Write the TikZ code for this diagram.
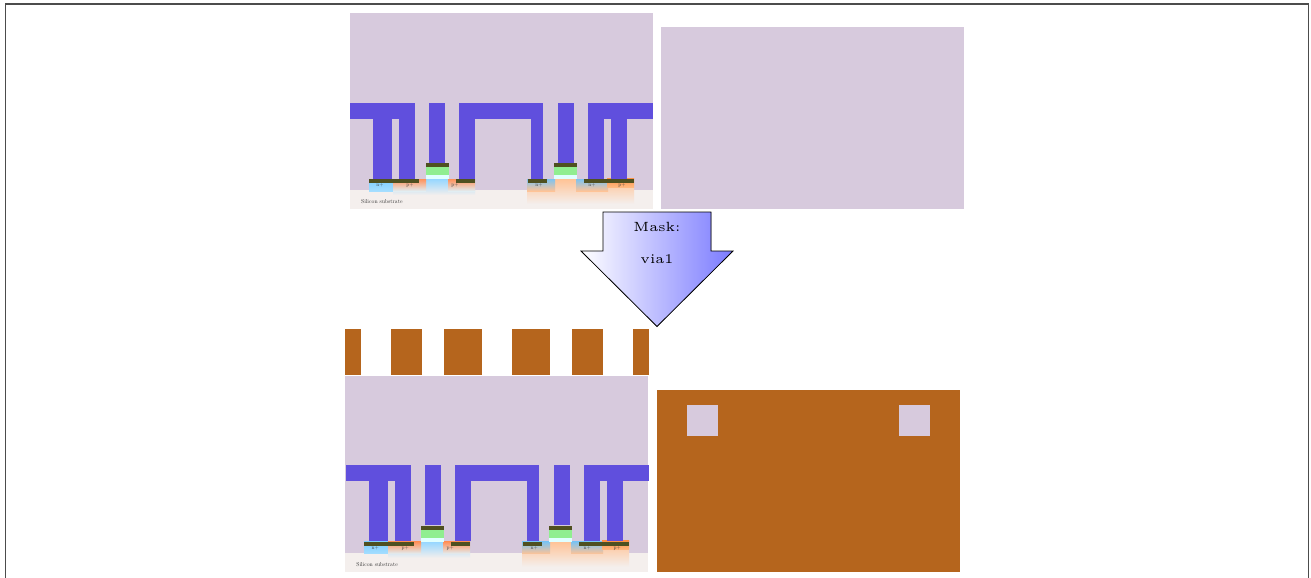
\documentclass[tikz,border=0pt]{standalone}
\usepackage{xcolor}
\definecolor{oxide}{HTML}{D7CADD}
\definecolor{subst}{HTML}{F4EFED}
\definecolor{metalone}{HTML}{604FDD}
\definecolor{contact}{HTML}{4F5020}
\definecolor{poly}{HTML}{90EE90}
\definecolor{gox}{HTML}{E0FFFF}
\definecolor{resist}{HTML}{B5651D}
\tikzset{
  x=0.75pt,y=-0.75pt,
  oxidefill/.style={fill=oxide,draw=none},
  substfill/.style={fill=subst,draw=none},
  metal/.style={fill=metalone,draw=none},
  via/.style={fill=contact,draw=none},
  gate/.style={fill=poly,draw=none},
  gateox/.style={fill=gox,draw=none},
  resistfill/.style={fill=resist,draw=none},
  nwell/.style={top color={rgb,255:red,150;green,215;blue,255},bottom color=subst,draw=none},
  pwell/.style={top color={rgb,255:red,255;green,195;blue,150},bottom color=subst,draw=none},
  nsolid/.style={top color={rgb,255:red,125;green,205;blue,255},bottom color={rgb,255:red,165;green,222;blue,255},draw=none},
  noverp/.style={top color={rgb,255:red,125;green,195;blue,240},middle color={rgb,255:red,170;green,190;blue,200},bottom color={rgb,255:red,255;green,195;blue,150},draw=none},
  poverw/.style={top color={rgb,255:red,255;green,145;blue,90},middle color={rgb,255:red,195;green,190;blue,180},bottom color={rgb,255:red,225;green,238;blue,243},draw=none},
  poverp/.style={top color={rgb,255:red,255;green,145;blue,70},bottom color={rgb,255:red,255;green,185;blue,130},draw=none},
  tinylabel/.style={inner sep=0pt,text=black!75,scale=0.4},
  sublabel/.style={inner sep=0pt,anchor=west,text=black!80,scale=0.43},
  maskarrow/.style={draw=black,line width=0.6pt,left color=white,right color=blue!52,line join=miter},
  masklabel/.style={inner sep=0pt,scale=2,font=\tiny},
  frameline/.style={draw=black!70,line width=0.9pt,fill=none},
}
\newcommand{\crosssection}[4]{%
\begin{scope}[shift={(#1,#2)}]
  \fill[oxidefill] (350,13) rectangle (653,190);
  \fill[substfill] (350,190) rectangle (653,209);
  % wells
  \shade[nwell] (393,179) rectangle (475,195);
  \shade[pwell] (527,179) rectangle (634,204);
  % implants
  \shade[nsolid] (369,179) rectangle (396,191);
  \shade[poverw] (393,179) rectangle (426,191);
  \shade[poverw] (448,179) rectangle (475,191);
  \shade[noverp] (527,179) rectangle (555,191);
  \shade[noverp] (576,179) rectangle (608,191);
  \shade[poverp] (607,178) rectangle (634,187);
  % gates
  \fill[gateox] (426,175) rectangle (449,179);
  \fill[gate] (426,167) rectangle (449,175);
  \fill[via] (426,163) rectangle (449,167);
  \fill[gateox] (554,175) rectangle (577,179);
  \fill[gate] (554,167) rectangle (577,175);
  \fill[via] (554,163) rectangle (577,167);
  % contacts
  \fill[via] (369,179) rectangle (419,183);
  \fill[via] (456,179) rectangle (475,183);
  \fill[via] (528,179) rectangle (547,183);
  \fill[via] (584,179) rectangle (634,183);
  % metal
  \begin{scope}[shift={(#3,#4)}]
  \fill[metal] (350,103) rectangle (415,119);
  \fill[metal] (373,119) rectangle (392,179);
  \fill[metal] (399,119) rectangle (415,179);
  \fill[metal] (429,103) rectangle (445,163);
  \fill[metal] (459,103) rectangle (543,119);
  \fill[metal] (459,119) rectangle (475,179);
  \fill[metal] (531,119) rectangle (543,179);
  \fill[metal] (558,103) rectangle (574,163);
  \fill[metal] (588,103) rectangle (653,119);
  \fill[metal] (588,119) rectangle (604,179);
  \fill[metal] (611,119) rectangle (627,179);
  \end{scope}
  % labels
  \node[tinylabel] (n#1a) at (380,185.6) {n+};
  \node[tinylabel] (p#1a) at (410,185.6) {p+};
  \node[tinylabel] (p#1b) at (455,185.6) {p+};
  \node[tinylabel] (n#1b) at (539,185.6) {n+};
  \node[tinylabel] (n#1c) at (592,185.6) {n+};
  \node[tinylabel] (p#1c) at (622,185.6) {p+};
  \node[sublabel] (s#1) at (361,201.3) {Silicon substrate};
\end{scope}}
\begin{document}
\begin{tikzpicture}
  \useasboundingbox (0,0) rectangle (1311,578);
  \draw[frameline] (5.5,600) -- (5.5,4) -- (1308.5,4) -- (1308.5,600);
  \clip (0,0) rectangle (1311,578);
  % top cross-section and plan
  \crosssection{0}{0}{0}{0}
  \fill[oxidefill] (661,27) rectangle (964,209);
  % arrow
  \filldraw[maskarrow] (603,212) -- (711,212) -- (711,251) -- (733,251) -- (657,326.5) -- (581,251) -- (603,251) -- cycle;
  \node[masklabel] (masktitle) at (657,227) {Mask:};
  \node[masklabel] (maskname) at (657,259) {via1};
  % bottom cross-section and plan
  \crosssection{-4.8}{362.8}{0.5}{-0.8}
  % mask pattern
  \fill[resistfill] (345,329) rectangle (361,375);
  \fill[resistfill] (391,329) rectangle (422,375);
  \fill[resistfill] (444,329) rectangle (482,375);
  \fill[resistfill] (512,329) rectangle (550,375);
  \fill[resistfill] (572,329) rectangle (603,375);
  \fill[resistfill] (633,329) rectangle (649,375);
  \fill[resistfill] (657,390) rectangle (960,572);
  \fill[oxidefill] (687,405) rectangle (718,436);
  \fill[oxidefill] (899,405) rectangle (930,436);
\end{tikzpicture}
\end{document}
